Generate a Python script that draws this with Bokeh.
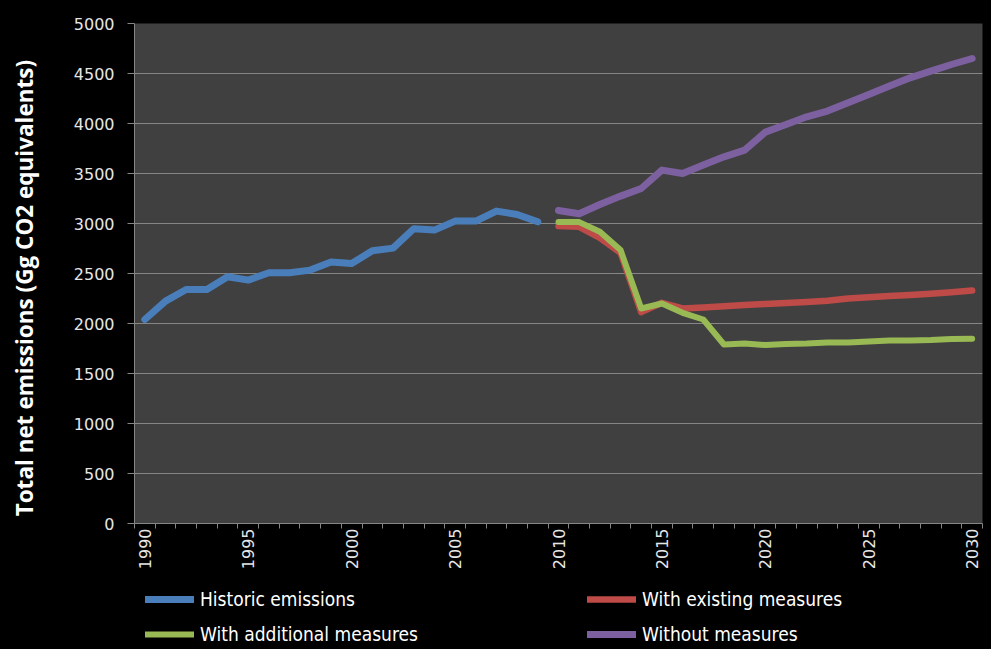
import math
import numpy as np
from bokeh.plotting import figure
from bokeh.layouts import column
from bokeh.models import FixedTicker, Legend, LegendItem, Range1d
from bokeh.embed import file_html
from bokeh.resources import INLINE

# ---- data ----
hist_years = [1990, 1991, 1992, 1993, 1994, 1995, 1996, 1997, 1998, 1999,
              2000, 2001, 2002, 2003, 2004, 2005, 2006, 2007, 2008, 2009]
historic = [2040, 2224, 2340, 2340, 2467, 2434, 2507, 2507, 2534, 2614,
            2600, 2727, 2754, 2947, 2934, 3024, 3024, 3124, 3090, 3017]

proj_years = [2010, 2011, 2012, 2013, 2014, 2015, 2016, 2017, 2018, 2019, 2020,
              2021, 2022, 2023, 2024, 2025, 2026, 2027, 2028, 2029, 2030]
with_existing = [2974, 2967, 2857, 2707, 2114, 2207, 2150, 2160, 2172, 2184, 2196,
                 2206, 2216, 2228, 2250, 2262, 2274, 2286, 2298, 2312, 2330]
with_additional = [3014, 3014, 2917, 2734, 2150, 2200, 2107, 2040, 1790, 1800, 1785,
                   1795, 1800, 1810, 1810, 1820, 1830, 1830, 1835, 1845, 1847]
without_measures = [3130, 3097, 3190, 3274, 3350, 3534, 3500, 3584, 3667, 3734, 3914,
                    3990, 4067, 4124, 4207, 4290, 4374, 4457, 4524, 4590, 4650]

y_ticks = [0, 500, 1000, 1500, 2000, 2500, 3000, 3500, 4000, 4500, 5000]
x_label_years = [1990, 1995, 2000, 2005, 2010, 2015, 2020, 2025, 2030]
category_edges = [y - 0.5 for y in range(1990, 2032)]

names = ["Historic emissions", "With existing measures",
         "With additional measures", "Without measures"]
colors = ["#4A7EBB", "#BE4B48", "#98B954", "#7D60A0"]
widths = [7, 6.5, 6, 7]
y_title = "Total net emissions (Gg CO2 equivalents)"

GRID = "#868686"
TICK_TEXT = "#e6e6e6"

p = figure(width=991, height=586, output_backend="svg", toolbar_location=None,
           x_range=Range1d(1989.5, 2030.5), y_range=Range1d(0, 5000),
           min_border_left=134, min_border_right=9, min_border_top=23,
           min_border_bottom=63,
           background_fill_color="#404040", border_fill_color="black")
p.outline_line_color = None

# x axis
xa = p.xaxis[0]
xa.ticker = FixedTicker(ticks=x_label_years, minor_ticks=category_edges)
xa.major_tick_out = 0
xa.major_tick_in = 0
xa.minor_tick_out = 5
xa.minor_tick_in = 0
xa.minor_tick_line_color = GRID
xa.axis_line_color = GRID
xa.major_label_orientation = math.pi / 2
xa.major_label_standoff = 0
xa.major_label_text_font = "DejaVu Sans"
xa.major_label_text_font_size = "16px"
xa.major_label_text_color = TICK_TEXT

# y axis
ya = p.yaxis[0]
ya.ticker = FixedTicker(ticks=y_ticks, minor_ticks=[])
ya.major_tick_out = 7
ya.major_tick_in = 0
ya.major_tick_line_color = GRID
ya.axis_line_color = GRID
ya.major_label_standoff = 13
ya.major_label_text_font = "DejaVu Sans"
ya.major_label_text_font_size = "16px"
ya.major_label_text_color = TICK_TEXT
# trailing no-break spaces nudge the (centred) title down, as in the original
ya.axis_label = y_title + "\u00a0" * 5
ya.axis_label_text_font = "Open Sans"
ya.axis_label_text_font_style = "bold"
ya.axis_label_text_font_size = "22.5px"
ya.axis_label_text_color = "white"
ya.axis_label_standoff = 31

p.xgrid.visible = False
p.ygrid.grid_line_color = GRID
p.ygrid.grid_line_width = 1

common = dict(line_join="round", line_cap="round")
p.line(hist_years, historic, line_color=colors[0], line_width=widths[0], **common)
p.line(proj_years, with_existing, line_color=colors[1], line_width=widths[1], **common)
p.line(proj_years, with_additional, line_color=colors[2], line_width=widths[2], **common)
p.line(proj_years, without_measures, line_color=colors[3], line_width=widths[3], **common)

# ---- legend strip (separate figure below the chart) ----
lg = figure(width=991, height=63, output_backend="svg", toolbar_location=None,
            min_border=0, background_fill_alpha=0, border_fill_color="black",
            x_axis_location=None, y_axis_location=None,
            x_range=Range1d(0, 1), y_range=Range1d(0, 1))
lg.grid.visible = False
lg.outline_line_color = None
nan2 = [np.nan, np.nan]
dummies = [lg.line(nan2, nan2, line_color=c, line_width=w, **common)
           for c, w in zip(colors, widths)]

legend = Legend(
    items=[LegendItem(label=names[0], renderers=[dummies[0]]),
           LegendItem(label=names[2], renderers=[dummies[2]]),
           LegendItem(label=names[1], renderers=[dummies[1]]),
           LegendItem(label=names[3], renderers=[dummies[3]])],
    location=(11, 4), orientation="vertical", nrows=2,
    background_fill_alpha=0, border_line_color=None,
    padding=0, margin=0, spacing=13,
    glyph_width=49, glyph_height=20, label_height=20,
    label_width=374, label_standoff=6,
    label_text_color="white", label_text_font="DejaVu Sans Condensed, Lato",
    label_text_font_size="19px")
lg.add_layout(legend, "center")

layout = column(p, lg, spacing=0, styles={"background-color": "black"})
open("out.html", "w").write(file_html(layout, INLINE))
